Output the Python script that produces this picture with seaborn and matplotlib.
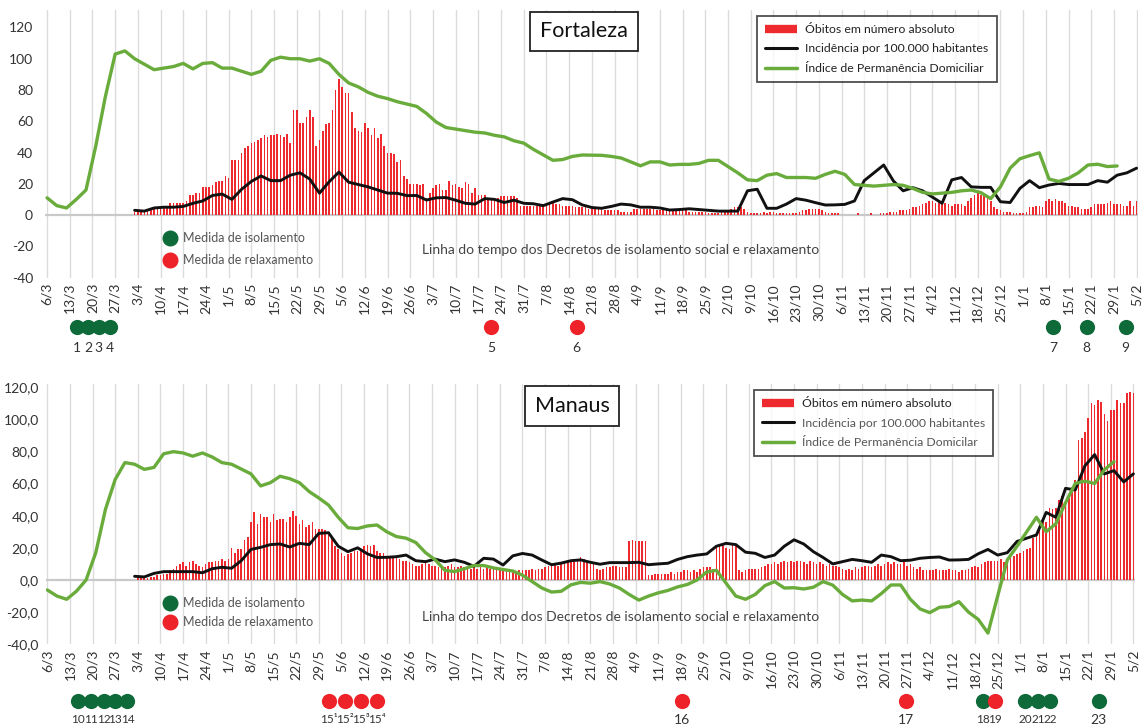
import numpy as np
import pandas as pd
import matplotlib
matplotlib.use("Agg")
import matplotlib.pyplot as plt
import seaborn as sns
from matplotlib.transforms import blended_transform_factory
from matplotlib.lines import Line2D

sns.set_theme(style="white")
plt.rcParams["font.family"] = ["Lato", "DejaVu Sans"]

# ---------------- data ----------------
week_labels = ["6/3","13/3","20/3","27/3","3/4","10/4","17/4","24/4","1/5","8/5","15/5","22/5",
               "29/5","5/6","12/6","19/6","26/6","3/7","10/7","17/7","24/7","31/7","7/8","14/8",
               "21/8","28/8","4/9","11/9","18/9","25/9","2/10","9/10","16/10","23/10","30/10",
               "6/11","13/11","20/11","27/11","4/12","11/12","18/12","25/12","1/1","8/1","15/1",
               "22/1","29/1","5/2"]

# Fortaleza - daily deaths, starting day 27 (day 0 = 6/3/2020)
fort_obitos_start = 27
fort_obitos = [2,
    3,3,2,3,4,4,5,  5,5,5,8,8,8,8,  8,9,13,13,14,14,18,  18,18,19,21,22,22,25,
    24,35,35,35,40,43,44,  46,47,48,49,51,50,51,  51,52,51,50,52,46,67,
    67,59,59,63,67,63,44,  48,54,58,59,67,80,87,  82,78,78,66,56,54,53,
    59,56,51,56,49,52,44,  40,40,39,34,35,25,23,  20,20,20,19,20,11,14,
    17,19,20,16,16,22,19,  20,18,17,21,20,14,17,  13,13,13,11,11,11,11,
    12,12,12,12,12,11,6,  6,6,6,6,6,6,7,  7,8,8,7,7,6,6,  6,6,5,5,5,5,4,
    4,4,4,4,3,3,3,  3,3,2,2,2,2,4,  4,4,4,4,4,4,3,  3,3,3,3,3,3,3,
    3,3,2,2,2,2,2,  2,1,1,1,1,2,2,  3,4,5,5,5,4,2,  1,1,1,1,2,1,2,
    2,1,1,1,1,1,1,  1,2,3,3,4,4,4,  4,3,2,1,1,1,1,  0,0,0,0,0,1,0,
    0,0,1,0,0,1,1,  1,2,2,2,3,3,3,  4,5,5,6,7,8,9,  9,8,9,8,8,7,6,
    7,7,7,6,9,11,13,  14,13,12,11,9,5,4,  3,2,2,2,1,1,1,  1,2,5,5,6,6,5,
    9,10,9,10,9,9,8,  6,6,5,5,4,4,4,  5,7,7,7,7,8,9,  7,7,7,6,6,9,6,
    9]
# Fortaleza - incidence per 100k, every 3 days from day 27
fort_inc_start = 27
fort_inc = [3,2.5,4.5,5,5,5.5,7.5,9,12.5,13.4,
    10,16.5,21.5,25,22,22,25.5,27,23,14,
    21.3,27.5,21,19.5,18,16,14,13.9,12.4,12.5,
    9.6,11,11.2,9.5,7.5,7,10.5,10,8,9.5,
    7.5,7.2,6,8.3,10.5,9.8,6.5,4.8,4.3,5.5,
    7,6.5,5,5,4.5,3.2,3.5,4,3.5,3,
    2.5,2.5,2.5,15.5,16.5,4.3,4.3,7,10.5,9.5,
    7.9,6.4,6.5,6.8,9,22,27,32,21.8,15.5,
    17.5,15.5,11.5,7.5,22.5,24,18,17.7,17.7,8.5,
    8,17,22,17.5,19.2,20.2,19.5,19.5,19.5,22,
    21,25.5,27,30]
# Fortaleza - home permanence index, every 3 days from day 0
fort_ipd_start = 0
fort_ipd = [11,6,4.5,10,16,44,76,103,105,100,
    96.5,93,94,95,97,93.5,97,97.5,94,94,
    92,90,92,99,101,100,100,98.5,100,97,
    90,84.5,82,78.5,76,74.5,72.5,71,69.5,65,
    59.5,56,55,54,53,52.5,51,50,47.5,46,
    42,38.5,35,35.5,37.5,38.4,38.3,38.2,37.5,36.5,
    34,31.5,34,34,32,32.4,32.4,33,35,35,
    31,27,22.5,22,25.5,26.5,24,24,24,23.5,
    26,28,26,19.5,19,18.5,19,19.5,19,17,
    14.5,13.5,14,14.5,15.5,16,14.3,10.5,18,30,
    36,38,39.8,23,21.5,23.5,27,32,32.5,31,
    31.4]

# Manaus - daily deaths from day 28
man_obitos_start = 28
man_obitos = [
    1,1,2,1,2,2,3,  3,4,4,6,7,9,10,  11,9,11,12,10,9,8,  10,11,11,12,12,13,12,
    13,20,17,19,19,25,27,  36,42,35,41,39,39,36,  41,37,38,38,36,39,43,
    40,35,37,33,34,36,32,  32,32,31,28,26,21,19,  17,15,16,17,18,18,19,
    21,22,21,22,18,17,17,  15,15,15,14,13,12,12,  11,10,9,9,10,11,10,
    9,9,8,8,8,9,10,  8,8,9,8,8,7,8,  7,8,7,8,7,7,7,  6,7,6,6,6,5,6,
    6,6,6,7,6,7,7,  8,9,9,10,9,11,12,  12,11,12,13,14,13,11,  10,10,7,6,7,8,8,
    9,9,8,8,8,24,25,  24,24,24,24,3,3,4,  4,4,4,4,5,4,5,  5,6,6,5,6,5,7,
    8,8,8,7,21,22,22,  20,19,22,22,6,5,6,  7,7,7,7,8,9,10,  10,11,10,11,12,11,12,
    11,12,12,11,10,12,11,  10,11,10,9,10,9,9,  8,7,6,7,6,8,7,  8,9,9,8,9,10,9,
    10,11,10,11,10,10,11,  9,10,8,7,8,6,6,  6,6,7,6,6,6,7,  6,6,5,6,6,7,8,
    9,8,10,11,12,12,12,  12,13,11,13,14,15,16,  17,18,19,20,26,29,31,
    37,36,45,44,45,50,52,  48,52,58,62,87,88,92,  101,110,109,112,111,103,99,
    106,106,112,110,110,116,117,  116]
man_inc_start = 27
man_inc = [2.3,1.9,4.1,5.2,5.2,5.2,5.2,4.5,7,7.9,
    7.3,12,19,20.3,22,22.4,20.5,22.8,22,29,
    29.4,21,17.6,20,16.3,14,14.1,14.5,15.5,12,
    11.4,13,11.4,12.5,11,8.5,13.5,13,9.3,15,
    16.5,15.5,12.4,9.5,10.5,12,12.5,11,9.8,10.8,
    10.8,10.8,11,9.5,10,10.4,12.8,14.5,15.5,16.2,
    21,22.8,22,17.3,16.6,14,15.5,21,25,22.4,
    17.6,14,10,11.4,12.8,12,11,15.5,14.5,12,
    12.3,13.5,14,14.3,12.4,12.5,12.8,16.3,19,15.5,
    17,24,26,28,42,39,57,56,71,78,
    66,68,61,66]
man_ipd_start = 0
man_ipd = [-6.2,-10,-12,-7,0,17,44,62.5,73,72,
    68.8,70,78.5,79.8,79,77,79,76.5,73,72,
    69,66,58.5,60.5,64.5,63,60.5,55,51,46.6,
    39,32.5,32,33.6,34.2,30,27,26,23.3,17,
    12.5,6,5.2,7,9,9,7.5,6.5,5.6,3,
    -1,-5,-7.5,-7,-3,-1.5,-2,-1,-2.5,-5,
    -9,-12.5,-10,-8,-6.5,-4.3,-2.8,0,5,6,
    -2,-10,-12,-9,-3.5,-1,-5,-4.8,-5.6,-4.5,
    -1,-3.2,-9,-13,-12.5,-13,-8.5,-3.1,-3.1,-12,
    -18,-20.3,-17,-16.5,-13.5,-20,-24.5,-33,-10,12.5,
    21,30,39,30,35,48,60,61.5,60,68.5,
    73.6]

# decree timelines (day index, type i=isolamento r=relaxamento, label)
fort_dec_days = [9.3, 12.6, 15.9, 19.5, 137, 163.3, 310.3, 320.6, 332.6]
fort_dec_types = ["i","i","i","i","r","r","i","i","i"]
fort_dec_labels = ["1","2","3","4","5","6","7","8","9"]
man_dec_days = [9.4, 13.5, 17.4, 21.0, 24.8, 87.1, 92.0, 97.0, 102.0, 196.5, 265.5,
                289.4, 293.3, 302.5, 306.5, 310.3, 325.2]
man_dec_types = ["i","i","i","i","i","r","r","r","r","r","r","i","r","i","i","i","i"]
man_dec_labels = ["10","11","12","13","14","15¹","15²","15³","15⁴","16","17",
                  "18","19","20","21","22","23"]

# ---------------- style ----------------
RED = "#ee2a2f"
BLACK = "#111111"
GREEN = "#6aac3c"
DKGREEN = "#0f6a39"
DOTRED = "#ee2229"
TXT = "#333333"

fig = plt.figure(figsize=(11.42, 7.25), dpi=100)
ax1 = fig.add_axes([0.0398, 0.6172, 0.9569, 0.3686])
ax2 = fig.add_axes([0.0400, 0.1113, 0.9539, 0.3593])


def draw_panel(ax, ob_start, ob, inc_start, inc, ipd_start, ipd, ylim, yticks, ylabels, ypad):
    ob_days = ob_start + np.arange(len(ob))
    df_b = pd.DataFrame({"day": ob_days, "v": ob})
    sns.barplot(data=df_b, x="day", y="v", native_scale=True, width=0.5, color=RED,
                saturation=1, errorbar=None, linewidth=0, ax=ax, zorder=2)
    df_i = pd.DataFrame({"day": inc_start + 3 * np.arange(len(inc)), "v": inc})
    sns.lineplot(data=df_i, x="day", y="v", color=BLACK, linewidth=2.1, ax=ax,
                 zorder=3, legend=False)
    df_p = pd.DataFrame({"day": ipd_start + 3 * np.arange(len(ipd)), "v": ipd})
    sns.lineplot(data=df_p, x="day", y="v", color=GREEN, linewidth=2.4, ax=ax,
                 zorder=4, legend=False)
    ax.set_xlim(-0.5, 336.5)
    ax.set_ylim(*ylim)
    ax.set_xticks(np.arange(0, 337, 7))
    ax.set_xticklabels(week_labels, rotation=90, fontsize=10, color=TXT)
    ax.set_yticks(yticks)
    ax.set_yticklabels(ylabels, fontsize=10, color=TXT)
    ax.tick_params(axis="both", length=0)
    ax.tick_params(axis="y", pad=ypad)
    ax.tick_params(axis="x", pad=4)
    ax.grid(axis="x", color="#dcdcdc", linewidth=1.0, zorder=0)
    ax.grid(axis="y", visible=False)
    ax.axhline(0, color="#c9c9c9", linewidth=1.6, zorder=1)
    ax.set_xlabel("")
    ax.set_ylabel("")
    for s in ax.spines.values():
        s.set_visible(False)
    ax.set_axisbelow(True)


draw_panel(ax1, fort_obitos_start, fort_obitos, fort_inc_start, fort_inc,
           fort_ipd_start, fort_ipd, (-40, 131), list(range(-40, 121, 20)),
           [str(v) for v in range(-40, 121, 20)], 9)
draw_panel(ax2, man_obitos_start, man_obitos, man_inc_start, man_inc,
           man_ipd_start, man_ipd, (-40, 122), list(range(-40, 121, 20)),
           [f"{v},0" for v in range(-40, 121, 20)], 5)


def decree_row(ax, days, types, labels, ydot, ylab):
    tr = blended_transform_factory(ax.transData, ax.transAxes)
    for k, (d, t, lab) in enumerate(zip(days, types, labels)):
        ax.scatter([d], [ydot], s=120, color=DKGREEN if t == "i" else DOTRED,
                   transform=tr, clip_on=False, zorder=5, linewidths=0)
        gaps = []
        if k > 0:
            gaps.append(d - days[k - 1])
        if k < len(days) - 1:
            gaps.append(days[k + 1] - d)
        crowded = min(gaps) < 6 and len(lab) > 1
        ax.text(d, ylab, lab, transform=tr, ha="center", va="center",
                fontsize=8.5 if crowded else 10, color=TXT,
                family=["Lato", "DejaVu Sans"])


decree_row(ax1, fort_dec_days, fort_dec_types, fort_dec_labels, -0.185, -0.262)
decree_row(ax2, man_dec_days, man_dec_types, man_dec_labels, -0.2165, -0.29)

# legends of the series
def series_legend(ax, anchor, last_label, grey_text):
    handles = [Line2D([], [], color=RED, lw=6, solid_capstyle="butt"),
               Line2D([], [], color=BLACK, lw=2.2),
               Line2D([], [], color=GREEN, lw=2.5)]
    labels = ["Óbitos em número absoluto", "Incidência por 100.000 habitantes", last_label]
    leg = ax.legend(handles, labels, loc="upper left", bbox_to_anchor=anchor,
                    fontsize=8.8, frameon=True, fancybox=False, handlelength=2.6,
                    handletextpad=0.7, labelspacing=0.7, borderpad=0.65,
                    borderaxespad=0)
    leg.get_frame().set_edgecolor("#222222")
    leg.get_frame().set_linewidth(1.3)
    leg.set_zorder(10)
    for i, t in enumerate(leg.get_texts()):
        t.set_color("#555555" if (grey_text and i > 0) else "#222222")


series_legend(ax1, (0.6512, 0.979), "Índice de Permanência Domiciliar", False)
series_legend(ax2, (0.6502, 0.976), "Índice de Permanência Domicilar", True)

# city title boxes
for (cx, cy, name) in [(0.5114, 0.9566, "Fortaleza"), (0.5009, 0.4400, "Manaus")]:
    fig.text(cx, cy, name, ha="center", va="center", fontsize=15.5, color="#111111",
             bbox=dict(boxstyle="square,pad=0.45", facecolor="white",
                       edgecolor="#222222", linewidth=1.3))

# decree marker legend and timeline caption
for (yg, yr, ycap) in [(0.6717, 0.6414, 0.6552), (0.1687, 0.1425, 0.1494)]:
    fig.add_artist(Line2D([0.1489], [yg], marker="o", markersize=10.5, color=DKGREEN,
                          linestyle="none", transform=fig.transFigure))
    fig.add_artist(Line2D([0.1489], [yr], marker="o", markersize=10.5, color=DOTRED,
                          linestyle="none", transform=fig.transFigure))
    fig.text(0.1600, yg, "Medida de isolamento", fontsize=9, color="#555555",
             va="center", ha="left")
    fig.text(0.1600, yr, "Medida de relaxamento", fontsize=9, color="#555555",
             va="center", ha="left")
    fig.text(0.5433, ycap, "Linha do tempo dos Decretos de isolamento social e relaxamento",
             fontsize=10, color="#444444", va="center", ha="center")

fig.savefig("out.png", dpi=100, facecolor="white")
